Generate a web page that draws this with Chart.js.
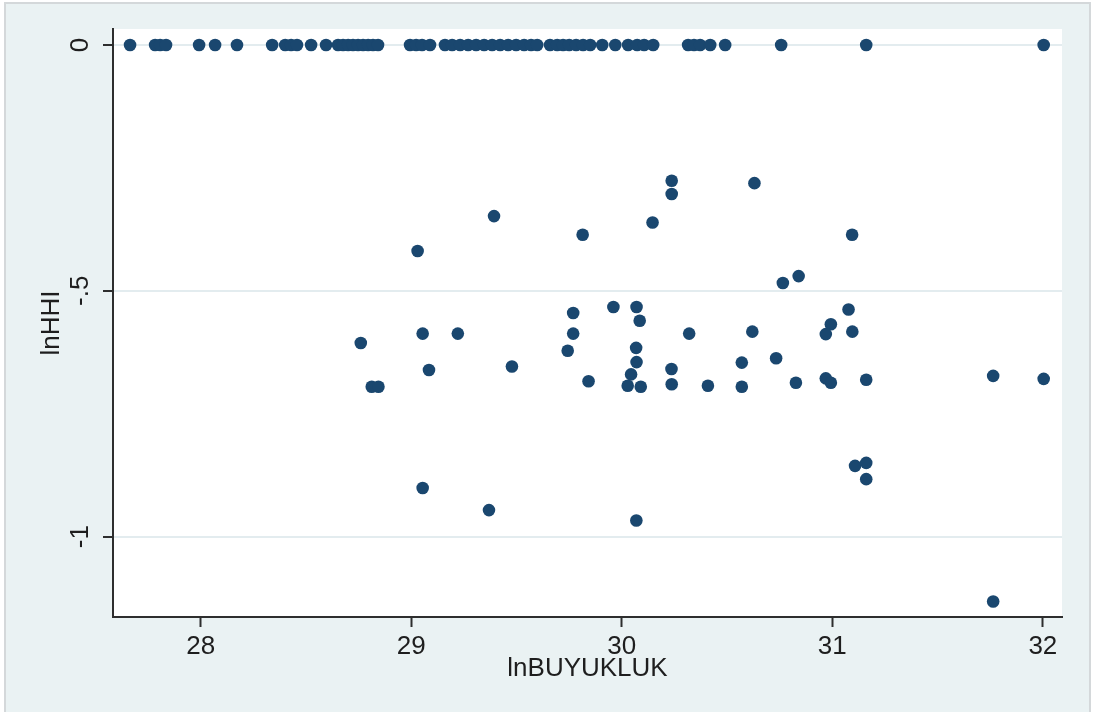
<!DOCTYPE html>
<html>
<head>
<meta charset="utf-8">
<script src="https://cdn.jsdelivr.net/npm/chart.js@4"></script>
<style>
  html, body { margin: 0; padding: 0; background: #ffffff; }
  #panel {
    position: absolute; left: 4px; top: 2px;
    width: 1083px; height: 720px;
    background: #eaf2f3; border: 2px solid #d4d8da;
  }
  #wrap { position: absolute; left: 0; top: 0; width: 1093px; height: 712px; }
</style>
</head>
<body>
<div id="panel"></div>
<div id="wrap"><canvas id="c" width="1093" height="712"></canvas></div>
<script>
// Firm size (lnBUYUKLUK) against concentration (lnHHI)
const lnBuyukluk = [
  27.664, 27.783, 27.807, 27.835, 27.992, 28.068, 28.172, 28.339, 28.401, 28.429,
  28.457, 28.524, 28.595, 28.652, 28.676, 28.700, 28.723, 28.747, 28.771, 28.795,
  28.818, 28.842, 28.994, 29.023, 29.051, 29.089, 29.160, 29.194, 29.232, 29.270,
  29.308, 29.346, 29.384, 29.422, 29.460, 29.498, 29.536, 29.569, 29.598, 29.659,
  29.693, 29.721, 29.750, 29.783, 29.816, 29.850, 29.907, 29.969, 30.030, 30.073,
  30.106, 30.149, 30.315, 30.343, 30.372, 30.420, 30.491, 30.757, 31.161, 32.004,
  30.237, 30.237, 29.393, 30.146, 29.814, 29.030, 30.630, 31.094, 30.840, 30.765,
  29.960, 30.070, 29.769, 30.085, 29.054, 29.221, 29.769, 30.320, 28.760, 29.743,
  30.068, 30.070, 29.084, 29.478, 30.044, 30.236, 29.842, 30.028, 30.090, 30.237,
  28.812, 28.844, 30.409, 30.620, 30.570, 30.570, 30.733, 30.827, 31.077, 30.993,
  30.969, 31.095, 30.969, 30.993, 31.161, 31.764, 32.004, 29.054, 29.369, 30.069,
  31.108, 31.161, 31.161, 31.764
];
const lnHhi = [
  0, 0, 0, 0, 0, 0, 0, 0, 0, 0,
  0, 0, 0, 0, 0, 0, 0, 0, 0, 0,
  0, 0, 0, 0, 0, 0, 0, 0, 0, 0,
  0, 0, 0, 0, 0, 0, 0, 0, 0, 0,
  0, 0, 0, 0, 0, 0, 0, 0, 0, 0,
  0, 0, 0, 0, 0, 0, 0, 0, 0, 0,
  -0.276, -0.303, -0.348, -0.361, -0.386, -0.419, -0.281, -0.386, -0.470, -0.484,
  -0.533, -0.533, -0.545, -0.561, -0.587, -0.587, -0.587, -0.587, -0.606, -0.622,
  -0.616, -0.645, -0.661, -0.654, -0.670, -0.659, -0.684, -0.693, -0.695, -0.690,
  -0.695, -0.695, -0.693, -0.583, -0.646, -0.695, -0.637, -0.687, -0.538, -0.568,
  -0.588, -0.583, -0.678, -0.687, -0.681, -0.673, -0.679, -0.901, -0.946, -0.967,
  -0.856, -0.850, -0.883, -1.132
];

const xTicks = [28, 29, 30, 31, 32];
const xTickLabels = ['28', '29', '30', '31', '32'];
const yTicks = [-1, -0.5, 0];
const yTickLabels = ['-1', '-.5', '0'];

const points = lnBuyukluk.map((x, i) => ({ x: x, y: lnHhi[i] }));

const FONT = "'Liberation Sans', Arial, Helvetica, sans-serif";
const INK = '#1e1e1e';
const AXIS = '#2e2e2e';

// white plot region inside the tinted graph background
const plotBackground = {
  id: 'plotBackground',
  beforeDraw(chart) {
    const { ctx, chartArea: a } = chart;
    ctx.save();
    ctx.fillStyle = '#ffffff';
    ctx.fillRect(a.left, a.top, a.right - a.left, a.bottom - a.top);
    ctx.restore();
  }
};

new Chart(document.getElementById('c'), {
  type: 'scatter',
  data: {
    datasets: [{
      data: points,
      pointRadius: 6.3,
      pointHoverRadius: 6.3,
      pointBackgroundColor: '#1a476f',
      pointBorderWidth: 0,
      pointBorderColor: '#1a476f'
    }]
  },
  options: {
    responsive: false,
    devicePixelRatio: 1,
    animation: false,
    events: [],
    layout: { padding: { top: 29, right: 31, bottom: 0, left: 0 } },
    plugins: { legend: { display: false }, tooltip: { enabled: false } },
    scales: {
      x: {
        type: 'linear',
        min: 27.583,
        max: 32.091,
        afterBuildTicks: s => { s.ticks = xTicks.map(v => ({ value: v })); },
        afterFit: s => { s.height = 95; },
        grid: { drawOnChartArea: false, tickLength: 10, tickWidth: 2, tickColor: AXIS },
        border: { display: true, color: AXIS, width: 2 },
        ticks: {
          autoSkip: false, maxRotation: 0, minRotation: 0, padding: 4,
          color: INK, font: { family: FONT, size: 26 },
          callback: (v, i) => xTickLabels[i]
        },
        title: {
          display: true, text: 'lnBUYUKLUK', color: INK,
          font: { family: FONT, size: 26 },
          padding: { top: 0, bottom: 27.6 }
        }
      },
      y: {
        type: 'linear',
        min: -1.1634,
        max: 0.03254,
        afterBuildTicks: s => { s.ticks = yTicks.map(v => ({ value: v })); },
        afterFit: s => { s.width = 113; },
        grid: { color: '#e3ecef', lineWidth: 2, tickLength: 10, tickWidth: 2, tickColor: AXIS },
        border: { display: true, color: AXIS, width: 2 },
        ticks: {
          autoSkip: false, minRotation: 90, maxRotation: 90, crossAlign: 'center', padding: 7,
          color: INK, font: { family: FONT, size: 26 },
          callback: (v, i) => yTickLabels[i]
        },
        title: {
          display: true, text: 'lnHHI', color: INK,
          font: { family: FONT, size: 26 },
          padding: { top: 36, bottom: 0 }
        }
      }
    }
  },
  plugins: [plotBackground]
});
</script>
</body>
</html>
